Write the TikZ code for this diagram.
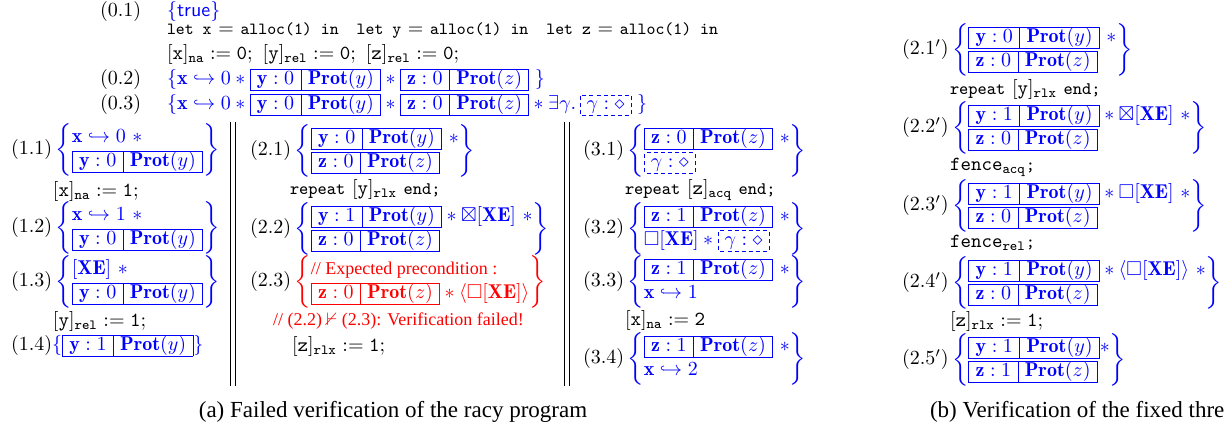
\documentclass[tikz,border=0pt]{standalone}
\usepackage{amsmath,amssymb}
\usepackage{fontspec}
\DeclareFontShape{OMX}{cmex}{m}{n}{<-> s*[1.095] cmex10}{}
\newfontfamily\timesf{Liberation Serif}
\newcommand{\codes}{\fontsize{8.5}{10}\selectfont\ttfamily}
\newcommand{\codem}[1]{{\fontsize{8.8}{10}\selectfont\ttfamily #1}}
\newcommand{\pb}[2]{\hbox{\setlength{\fboxsep}{0pt}\fbox{\rule[-2.6pt]{0pt}{9.8pt}\kern3.2pt$#1$\kern3.2pt\vrule\kern3.2pt$#2$\kern3.2pt}}}
\newsavebox{\dbbox}
\newlength{\dbw}
\newcommand{\hdl}[1]{\hbox to #1{\xleaders\hbox to 3.2pt{\hss\vrule width 2pt height 0.45pt\hss}\hfil}}
\newcommand{\vdl}[1]{\vbox to #1{\xleaders\vbox to 3.2pt{\vss\hrule height 2pt width 0.45pt\vss}\vfil}}
\newcommand{\dbx}[1]{\sbox{\dbbox}{\rule[-2.6pt]{0pt}{9.8pt}\kern3pt$#1$\kern3pt}\setlength{\dbw}{\wd\dbbox}\hbox{\lower3pt\vdl{10.6pt}\rlap{\lower3pt\hdl{\dbw}}\rlap{\raise7.2pt\hdl{\dbw}}\usebox{\dbbox}\lower3pt\vdl{10.6pt}}}
\newcommand{\asr}[4][blue]{$(#2)\color{#1}\left\{\begin{array}{@{}l@{}}#3\\#4\end{array}\right\}$}
\newcommand{\Py}{\mathbf{Prot}(y)}
\newcommand{\Pz}{\mathbf{Prot}(z)}
\newcommand{\XE}{[\mathbf{XE}]}
\begin{document}
\begin{tikzpicture}[x=0.5pt,y=-0.5pt,
  every node/.style={inner sep=0pt,outer sep=0pt},
  asrt/.style={anchor=west},
  codeln/.style={anchor=west},
  cmt/.style={anchor=west,text=red,font=\timesf\fontsize{9}{10}\selectfont},
  capt/.style={font=\timesf\fontsize{11.5}{13}\selectfont},
  sepline/.style={line width=0.4pt}]
\useasboundingbox (0,0) rectangle (1227,431);
% ---- top part
\node[asrt] (l01) at (100,12) {$(0.1)$};
\node[asrt] (p01) at (167,12) {$\color{blue}\{\mathsf{true}\}$};
\node[codeln] (c01) at (167,31) {{\codes let x} $=$ {\codes alloc(1) in}\hspace{9pt}{\codes let y} $=$ {\codes alloc(1) in}\hspace{9pt}{\codes let z} $=$ {\codes alloc(1) in}};
\node[codeln] (c02) at (167,55) {$[\mathtt{x}]_{\mathtt{na}} := \mathtt{0};\ [\mathtt{y}]_{\mathtt{rel}} := \mathtt{0};\ [\mathtt{z}]_{\mathtt{rel}} := \mathtt{0};$};
\node[asrt] (l02) at (100,80) {$(0.2)$};
\node[asrt] (p02) at (167,80) {$\color{blue}\{\mathbf{x}\hookrightarrow 0 * \pb{\mathbf{y}:0}{\Py} * \pb{\mathbf{z}:0}{\Pz}\;\}$};
\node[asrt] (l03) at (100,105) {$(0.3)$};
\node[asrt] (p03) at (167,105) {$\color{blue}\{\mathbf{x}\hookrightarrow 0 * \pb{\mathbf{y}:0}{\Py} * \pb{\mathbf{z}:0}{\Pz} * \exists\gamma.\,\dbx{\gamma:\diamond}\;\}$};
% ---- separators
\draw[sepline] (230.5,122) -- (230.5,386);
\draw[sepline] (235,122) -- (235,386);
\draw[sepline] (564.5,122) -- (564.5,386);
\draw[sepline] (569,122) -- (569,386);
% ---- thread 1
\node[asrt] (a11) at (11,150) {\asr{1.1}{\mathbf{x}\hookrightarrow 0\ *}{\pb{\mathbf{y}:0}{\Py}}};
\node[codeln] (s11) at (53,192) {$[\mathtt{x}]_{\mathtt{na}} := \mathtt{1};$};
\node[asrt] (a12) at (11,228) {\asr{1.2}{\mathbf{x}\hookrightarrow 1\ *}{\pb{\mathbf{y}:0}{\Py}}};
\node[asrt] (a13) at (11,282) {\asr{1.3}{\XE\ *}{\pb{\mathbf{y}:0}{\Py}}};
\node[codeln] (s13) at (53,322) {$[\mathtt{y}]_{\mathtt{rel}} := \mathtt{1};$};
\node[asrt] (a14) at (11,346) {$(1.4)\color{blue}\{\pb{\mathbf{y}:1}{\Py}\}$};
% ---- thread 2
\node[asrt] (a21) at (250,151) {\asr{2.1}{\pb{\mathbf{y}:0}{\Py}\ *}{\pb{\mathbf{z}:0}{\Pz}}};
\node[codeln] (s21) at (290,190) {\codem{repeat} $[\mathtt{y}]_{\mathtt{rlx}}$ \codem{end;}};
\node[asrt] (a22) at (250,229) {\asr{2.2}{\pb{\mathbf{y}:1}{\Py} * \boxtimes\XE\ *}{\pb{\mathbf{z}:0}{\Pz}}};
\node[asrt] (a23) at (250,282) {\asr[red]{2.3}{\mbox{\timesf\fontsize{9}{10}\selectfont // Expected precondition :}}{\pb{\mathbf{z}:0}{\Pz} * \langle\square\XE\rangle}};
\node[cmt] (m23) at (273,321) {// (2.2) $\nvdash$ (2.3): Verification failed!};
\node[codeln] (s23) at (292,347) {$[\mathtt{z}]_{\mathtt{rlx}} := \mathtt{1};$};
% ---- thread 3
\node[asrt] (a31) at (583,151) {\asr{3.1}{\pb{\mathbf{z}:0}{\Pz}\ *}{\dbx{\gamma:\diamond}}};
\node[codeln] (s31) at (625,190) {\codem{repeat} $[\mathtt{z}]_{\mathtt{acq}}$ \codem{end;}};
\node[asrt] (a32) at (583,229) {\asr{3.2}{\pb{\mathbf{z}:1}{\Pz}\ *}{\square\XE * \dbx{\gamma:\diamond}}};
\node[asrt] (a33) at (583,282) {\asr{3.3}{\pb{\mathbf{z}:1}{\Pz}\ *}{\mathbf{x}\hookrightarrow 1}};
\node[codeln] (s33) at (625,321) {$[\mathtt{x}]_{\mathtt{na}} := \mathtt{2}$};
\node[asrt] (a34) at (583,359) {\asr{3.4}{\pb{\mathbf{z}:1}{\Pz}\ *}{\mathbf{x}\hookrightarrow 2}};
\node[capt] (capa) at (393,412) {(a) Failed verification of the racy program};
% ---- fixed thread
\node[asrt] (b21) at (902,50) {\asr{2.1'}{\pb{\mathbf{y}:0}{\Py}\ *}{\pb{\mathbf{z}:0}{\Pz}}};
\node[codeln] (t21) at (950,90) {\codem{repeat} $[\mathtt{y}]_{\mathtt{rlx}}$ \codem{end;}};
\node[asrt] (b22) at (902,128) {\asr{2.2'}{\pb{\mathbf{y}:1}{\Py} * \boxtimes\XE\ *}{\pb{\mathbf{z}:0}{\Pz}}};
\node[codeln] (t22) at (950,167) {$\mathtt{fence}_{\mathtt{acq}}$\codem{;}};
\node[asrt] (b23) at (902,206) {\asr{2.3'}{\pb{\mathbf{y}:1}{\Py} * \square\XE\ *}{\pb{\mathbf{z}:0}{\Pz}}};
\node[codeln] (t23) at (950,243) {$\mathtt{fence}_{\mathtt{rel}}$\codem{;}};
\node[asrt] (b24) at (902,283) {\asr{2.4'}{\pb{\mathbf{y}:1}{\Py} * \langle\square\XE\rangle\ *}{\pb{\mathbf{z}:0}{\Pz}}};
\node[codeln] (t24) at (950,322) {$[\mathtt{z}]_{\mathtt{rlx}} := \mathtt{1};$};
\node[asrt] (b25) at (902,360) {\asr{2.5'}{\pb{\mathbf{y}:1}{\Py}{*}}{\pb{\mathbf{z}:1}{\Pz}}};
\node[capt,anchor=west] (capb) at (930,412) {(b) Verification of the fixed thre};
\end{tikzpicture}
\end{document}
